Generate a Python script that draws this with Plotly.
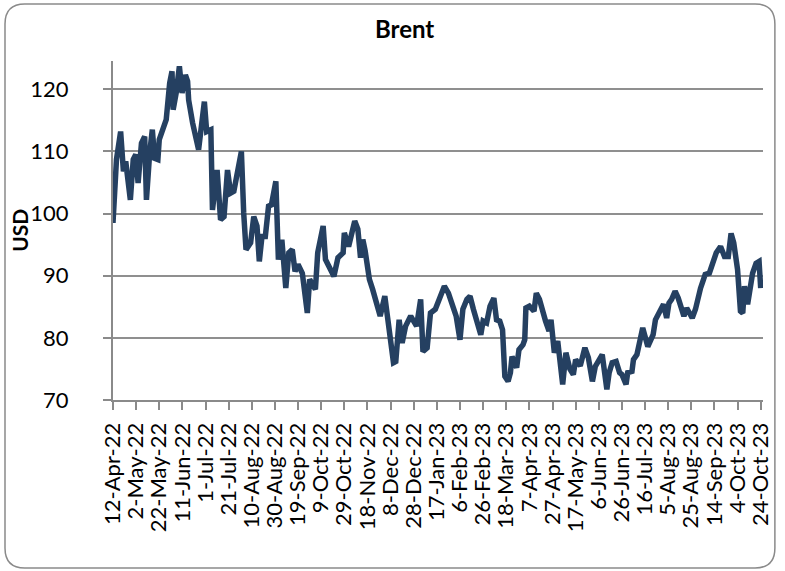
import pandas as pd
import plotly.graph_objects as go

start_date = "2022-04-12"
day_offsets = [
    0, 3, 6.6, 7.5, 9, 11, 15, 17.5, 19.7, 21.7, 24.6, 27.4, 28.9, 31.7, 34, 36, 38.8, 40,
    43, 46, 49, 51, 52, 54.6, 57.4, 59.7, 62.6, 64.5, 65.4, 68.8, 74, 76, 79, 81, 84.6, 86,
    90, 93, 96, 99, 101.7, 104.5, 107, 111, 113, 115, 119, 121.7, 124.5, 126.5, 128.8, 131.7,
    134.5, 137, 140.8, 143, 146, 149.4, 152, 155, 157.4, 160, 163.7, 168, 170, 175, 177,
    181.7, 183.7, 191, 194.5, 199, 200, 203.7, 209, 211.7, 214, 216, 218, 221.7, 224.5, 228,
    231, 235, 239.7, 242.5, 244.5, 247.4, 250, 253, 257.4, 262.5, 266, 268, 271.6, 274.5,
    278.7, 283, 286.5, 290, 292, 296.7, 300, 302.5, 306, 308.7, 311.6, 318, 320, 323, 326,
    329.3, 331.6, 334.4, 336.8, 338.8, 341.6, 343.6, 345, 349, 351, 354.5, 356, 357, 360,
    364, 366, 368.7, 374, 377, 378.7, 381.6, 384.5, 386.5, 388.8, 391.6, 395, 398, 400, 404,
    408, 411, 414.5, 417, 423, 427, 429, 431.6, 435, 438, 440, 443.6, 445, 448.7, 450, 453,
    455, 458, 462.4, 467, 469, 472, 476, 478.7, 480.7, 483, 486, 488.7, 493.6, 496, 500.8,
    503.6, 506, 508, 510, 512, 515.6, 518.6, 521.6, 525.3, 528.7, 532, 534.4, 536.7, 540,
    542.5, 544.5, 546, 548.7, 553, 556, 558.6, 560,
]
brent_usd = [
    98.5, 108.7, 113.2, 108.7, 106.8, 108.4, 102.2, 108.7, 109.5, 104.9, 111.3, 112.4, 102.2,
    109.7, 113.5, 108.9, 108.7, 111.9, 113.5, 115.1, 121.0, 122.9, 116.7, 119.4, 123.7, 119.4,
    122.3, 121.3, 118.3, 114.6, 110.3, 114.0, 118.0, 113.2, 113.5, 100.6, 107.0, 99.0, 99.5,
    107.0, 103.3, 103.6, 106.0, 110.0, 100.1, 94.2, 95.3, 99.5, 98.0, 92.3, 96.3, 96.3, 101.2,
    101.4, 105.2, 92.6, 95.8, 88.0, 93.7, 94.2, 90.7, 91.8, 90.4, 84.0, 89.4, 87.8, 93.7, 98.0,
    92.6, 89.9, 92.9, 93.7, 96.9, 94.7, 98.8, 97.5, 92.9, 95.8, 94.0, 89.4, 87.8, 85.6, 83.5,
    86.7, 79.2, 76.0, 76.2, 82.9, 79.2, 81.9, 83.5, 81.9, 86.2, 77.8, 78.4, 84.0, 84.6, 86.4,
    88.3, 87.2, 86.2, 83.5, 79.7, 84.6, 86.2, 86.7, 84.6, 80.5, 82.7, 82.4, 85.1, 86.4, 82.9,
    82.7, 81.3, 73.8, 73.0, 74.4, 77.0, 75.2, 78.1, 78.9, 79.7, 84.8, 85.1, 84.3, 87.2, 86.2,
    82.7, 81.1, 82.9, 77.6, 79.5, 76.0, 72.5, 77.6, 75.0, 74.1, 76.5, 75.5, 78.4, 76.8, 73.0,
    75.4, 77.3, 71.7, 74.4, 76.0, 76.2, 74.4, 74.1, 72.5, 74.4, 74.6, 76.5, 77.3, 79.2, 81.6,
    78.6, 80.5, 82.9, 84.0, 85.4, 83.2, 85.6, 86.2, 87.5, 86.4, 83.5, 84.8, 83.2, 84.6, 86.7,
    88.0, 89.1, 90.2, 90.4, 92.0, 93.7, 94.7, 93.1, 93.1, 96.8, 95.3, 91.0, 84.3, 84.0, 88.3,
    85.4, 90.4, 92.0, 92.3, 88.0,
]
y_ticks = [70, 80, 90, 100, 110, 120]

dates = pd.Timestamp(start_date) + pd.to_timedelta(day_offsets, unit="D")

W, H = 785, 571
L, R, T, B = 113, 16, 61, 171
pw, ph = W - L - R, H - T - B


def px(x):
    return (x - L) / pw


def py(y):
    return (H - B - y) / ph


fig = go.Figure()
fig.add_trace(go.Scatter(
    x=dates, y=brent_usd, mode="lines",
    line=dict(color="#254061", width=5.5), hoverinfo="x+y",
))

# rounded chart border
x0, x1, y0, y1, r = 4, 781, 4, 568, 20
path = (
    f"M {px(x0 + r)} {py(y0)} L {px(x1 - r)} {py(y0)} "
    f"Q {px(x1)} {py(y0)} {px(x1)} {py(y0 + r)} "
    f"L {px(x1)} {py(y1 - r)} Q {px(x1)} {py(y1)} {px(x1 - r)} {py(y1)} "
    f"L {px(x0 + r)} {py(y1)} Q {px(x0)} {py(y1)} {px(x0)} {py(y1 - r)} "
    f"L {px(x0)} {py(y0 + r)} Q {px(x0)} {py(y0)} {px(x0 + r)} {py(y0)} Z"
)
fig.add_shape(type="path", path=path, xref="paper", yref="paper",
              line=dict(color="#8a8a8a", width=1.5), layer="below")

fig.update_layout(
    width=W, height=H,
    margin=dict(l=L, r=R, t=T, b=B, pad=0),
    paper_bgcolor="white", plot_bgcolor="white",
    showlegend=False,
    font=dict(family="Lato", color="black"),
    annotations=[
        dict(text="<b>Brent</b>", x=px(407), y=py(28), xref="paper", yref="paper",
             showarrow=False, xanchor="center", yanchor="middle",
             font=dict(size=24, family="Lato")),
        dict(text="<b>USD</b>", x=px(18), y=py(230), xref="paper", yref="paper",
             showarrow=False, textangle=-90, xanchor="center", yanchor="middle",
             font=dict(size=21, family="Lato")),
    ],
)
fig.update_xaxes(
    type="date",
    range=["2022-04-12", "2023-10-26"],
    tick0=start_date, dtick=20 * 86400000,
    tickformat="%-d-%b-%y", tickangle=-90,
    ticks="outside", ticklen=8, tickcolor="#8a8a8a", tickwidth=1.5,
    showline=True, linecolor="#8a8a8a", linewidth=2,
    showgrid=False, zeroline=False,
    ticklabelstandoff=4,
    tickfont=dict(size=22, family="Lato", color="black"),
)
fig.update_yaxes(
    range=[70, 124.55],
    tickvals=y_ticks,
    ticks="outside", ticklen=8, tickcolor="#8a8a8a", tickwidth=1.5,
    showline=True, linecolor="#8a8a8a", linewidth=2,
    showgrid=True, gridcolor="#8f8f8f", gridwidth=2,
    zeroline=False,
    ticklabelstandoff=30,
    tickfont=dict(size=22, family="Lato", color="black"),
)

fig.write_html(
    "out.html",
    config={"displayModeBar": False},
    post_script="document.body.style.margin='0';document.body.style.overflow='hidden';",
)
